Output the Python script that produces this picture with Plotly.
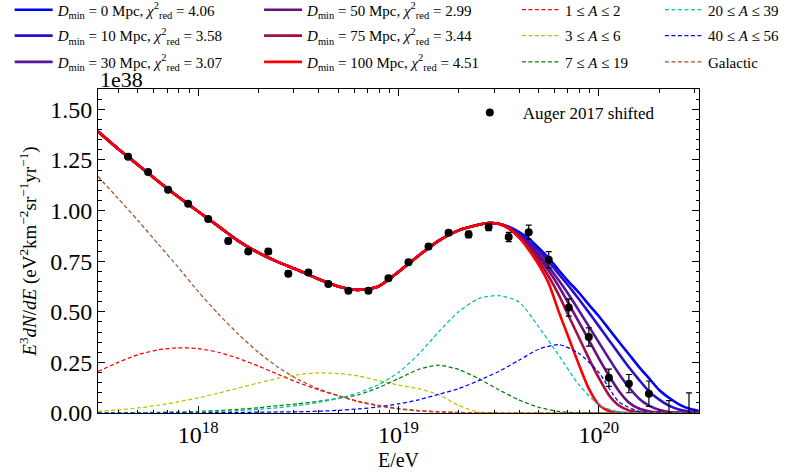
import plotly.graph_objects as go

# ---------------- data (flux in units of 1e38) ----------------
# model grid, log10(E/eV)
model_logE = [17.5, 17.6, 17.7, 17.8, 17.9, 18.0, 18.1, 18.2, 18.3, 18.4, 18.5,
              18.6, 18.7, 18.8, 18.9, 19.0, 19.1, 19.2, 19.3, 19.4, 19.45,
              19.5, 19.55, 19.6, 19.65, 19.7, 19.75, 19.8, 19.85, 19.9, 19.95,
              20.0, 20.05, 20.1, 20.15, 20.2, 20.25, 20.3, 20.35, 20.4, 20.45, 20.5]
# part shared by all fits (17.5 .. 19.45)
model_low = [1.39, 1.305, 1.225, 1.145, 1.068, 0.995, 0.923, 0.85, 0.792, 0.745, 0.705,
             0.662, 0.625, 0.608, 0.625, 0.697, 0.777, 0.85, 0.902, 0.93, 0.938]
# high-energy parts (19.5 .. 20.5)
tail_D0 = [0.935, 0.92, 0.895, 0.862, 0.815, 0.765, 0.705, 0.648, 0.595, 0.535, 0.478,
           0.415, 0.352, 0.29, 0.228, 0.172, 0.115, 0.075, 0.043, 0.022, 0.010]
tail_D10 = [0.935, 0.918, 0.887, 0.845, 0.803, 0.746, 0.686, 0.626, 0.563, 0.497, 0.429,
            0.361, 0.293, 0.226, 0.165, 0.107, 0.067, 0.036, 0.017, 0.007, 0.003]
tail_D30 = [0.935, 0.917, 0.881, 0.835, 0.786, 0.722, 0.655, 0.584, 0.507, 0.428, 0.349,
            0.27, 0.194, 0.127, 0.072, 0.036, 0.016, 0.005, 0.002, 0.001, 0.0]
tail_D50 = [0.935, 0.915, 0.875, 0.827, 0.770, 0.702, 0.625, 0.539, 0.45, 0.36, 0.27,
            0.185, 0.109, 0.052, 0.022, 0.009, 0.003, 0.001, 0.0, 0.0, 0.0]
tail_D75 = [0.935, 0.913, 0.868, 0.817, 0.752, 0.674, 0.583, 0.478, 0.374, 0.27, 0.173,
            0.089, 0.037, 0.013, 0.003, 0.001, 0.0, 0.0, 0.0, 0.0, 0.0]
tail_D100 = [0.935, 0.91, 0.87, 0.806, 0.732, 0.64, 0.50, 0.37, 0.24, 0.12, 0.04,
             0.01, 0.002, 0.0, 0.0, 0.0, 0.0, 0.0, 0.0, 0.0, 0.0]

fit_names = ["<i>D</i><sub>min</sub> = 0 Mpc, <i>χ</i><sup>2</sup><sub>red</sub> = 4.06",
             "<i>D</i><sub>min</sub> = 10 Mpc, <i>χ</i><sup>2</sup><sub>red</sub> = 3.58",
             "<i>D</i><sub>min</sub> = 30 Mpc, <i>χ</i><sup>2</sup><sub>red</sub> = 3.07",
             "<i>D</i><sub>min</sub> = 50 Mpc, <i>χ</i><sup>2</sup><sub>red</sub> = 2.99",
             "<i>D</i><sub>min</sub> = 75 Mpc, <i>χ</i><sup>2</sup><sub>red</sub> = 3.44",
             "<i>D</i><sub>min</sub> = 100 Mpc, <i>χ</i><sup>2</sup><sub>red</sub> = 4.51"]
fit_tails = [tail_D0, tail_D10, tail_D30, tail_D50, tail_D75, tail_D100]
fit_colors = ["#0000ff", "#2a0fcc", "#5a1499", "#6a0f80", "#a50e45", "#ff0000"]

# component grid, log10(E/eV)
comp_logE = [17.5, 17.6, 17.7, 17.8, 17.9, 18.0, 18.1, 18.2, 18.3, 18.4, 18.5,
             18.6, 18.7, 18.8, 18.9, 19.0, 19.1, 19.2, 19.3, 19.4, 19.5,
             19.6, 19.7, 19.8, 19.9, 20.0, 20.1, 20.2, 20.3, 20.4, 20.5]
comp_A1_2 = [0.205, 0.25, 0.288, 0.312, 0.322, 0.318, 0.30, 0.27, 0.232, 0.19, 0.15,
             0.115, 0.085, 0.058, 0.038, 0.022, 0.012, 0.006, 0.003, 0.001, 0.0,
             0, 0, 0, 0, 0, 0, 0, 0, 0, 0]
comp_A3_6 = [0.008, 0.015, 0.025, 0.038, 0.055, 0.075, 0.098, 0.123, 0.148, 0.172, 0.19,
             0.198, 0.195, 0.183, 0.16, 0.138, 0.12, 0.09, 0.038, 0.004, 0.0,
             0, 0, 0, 0, 0, 0, 0, 0, 0, 0]
comp_A7_19 = [0.0, 0.001, 0.002, 0.003, 0.005, 0.008, 0.012, 0.018, 0.026, 0.036, 0.046,
              0.058, 0.072, 0.09, 0.125, 0.17, 0.215, 0.236, 0.215, 0.17, 0.115,
              0.065, 0.028, 0.008, 0.001, 0, 0, 0, 0, 0, 0]
comp_A20_39 = [0.0, 0.0, 0.001, 0.002, 0.003, 0.005, 0.008, 0.012, 0.018, 0.026, 0.037,
               0.052, 0.072, 0.10, 0.14, 0.20, 0.29, 0.40, 0.50, 0.565, 0.58,
               0.55, 0.425, 0.285, 0.14, 0.04, 0.005, 0, 0, 0, 0]
comp_A40_56 = [0.0, 0.0, 0.0, 0.0, 0.001, 0.001, 0.002, 0.003, 0.004, 0.005, 0.006,
               0.009, 0.013, 0.02, 0.03, 0.045, 0.065, 0.092, 0.12, 0.16, 0.205,
               0.26, 0.315, 0.338, 0.295, 0.2, 0.055, 0.008, 0, 0, 0]
comp_gal = [1.168, 1.06, 0.95, 0.835, 0.72, 0.60, 0.49, 0.39, 0.30, 0.225, 0.165,
            0.12, 0.085, 0.055, 0.035, 0.02, 0.01, 0.005, 0.002, 0.0, 0.0,
            0, 0, 0, 0, 0, 0, 0, 0, 0, 0]
comp_names = ["1 ≤ <i>A</i> ≤ 2", "3 ≤ <i>A</i> ≤ 6", "7 ≤ <i>A</i> ≤ 19",
              "20 ≤ <i>A</i> ≤ 39", "40 ≤ <i>A</i> ≤ 56", "Galactic"]
comp_values = [comp_A1_2, comp_A3_6, comp_A7_19, comp_A20_39, comp_A40_56, comp_gal]
comp_colors = ["#ff0000", "#bfbf00", "#008000", "#00bfbf", "#0000ff", "#a0522d"]

# Auger 2017 (shifted)
auger_logE = [17.65, 17.75, 17.85, 17.95, 18.05, 18.15, 18.25, 18.35, 18.45, 18.55,
              18.65, 18.75, 18.85, 18.95, 19.05, 19.15, 19.25, 19.35, 19.45, 19.55,
              19.65, 19.75, 19.85, 19.95, 20.05, 20.15, 20.25]
auger_flux = [1.266, 1.190, 1.102, 1.033, 0.958, 0.850, 0.798, 0.798, 0.688, 0.694,
              0.637, 0.604, 0.604, 0.666, 0.745, 0.822, 0.890, 0.882, 0.918, 0.869,
              0.893, 0.757, 0.521, 0.375, 0.174, 0.145, 0.095]
auger_err = [0.006, 0.006, 0.007, 0.008, 0.009, 0.014, 0.012, 0.013, 0.014, 0.010,
             0.009, 0.009, 0.010, 0.009, 0.010, 0.011, 0.012, 0.016, 0.017, 0.023,
             0.035, 0.040, 0.043, 0.045, 0.043, 0.045, 0.063]
ul_logE = [20.35, 20.45]
ul_top = [0.061, 0.099]

x_tickvals = [1e18, 1e19, 1e20]
x_ticktext = ["10<sup>18</sup>", "10<sup>19</sup>", "10<sup>20</sup>"]

# ---------------- figure ----------------
FONT = "Liberation Serif"
fig = go.Figure()

# legend slots: column x (paper) and row y (paper) for the 4x3 legend grid
col_x = [-0.147, 0.268, 0.697, 0.935]
row_y = [1.244, 1.164, 1.083]

E_model = [10.0 ** v for v in model_logE]
for i in range(6):
    fig.add_trace(go.Scatter(
        x=E_model, y=model_low + fit_tails[i], mode="lines", name=fit_names[i],
        line=dict(color=fit_colors[i], width=2.6, shape="spline", smoothing=0.6),
        legend="legend%d" % (i + 2)))

E_comp = [10.0 ** v for v in comp_logE]
for i in range(6):
    fig.add_trace(go.Scatter(
        x=E_comp, y=comp_values[i], mode="lines", name=comp_names[i],
        line=dict(color=comp_colors[i], width=1.25, dash="4px,2.5px",
                  shape="spline", smoothing=0.6),
        legend="legend%d" % (i + 8)))

fig.add_trace(go.Scatter(
    x=[10.0 ** v for v in auger_logE], y=auger_flux, mode="markers",
    name="Auger 2017 shifted",
    marker=dict(color="black", size=8),
    error_y=dict(type="data", array=auger_err, color="black", thickness=1.2, width=3),
    legend="legend"))
fig.add_trace(go.Scatter(
    x=[10.0 ** v for v in ul_logE], y=[0, 0], mode="markers",
    marker=dict(color="black", size=7, opacity=0),
    error_y=dict(type="data", symmetric=False, array=ul_top, arrayminus=[0, 0],
                 color="black", thickness=1.2, width=3),
    showlegend=False, hoverinfo="skip"))

minor_x = [float(m) * 10.0 ** d for d in (17, 18, 19, 20) for m in range(2, 10)
           if 10.0 ** 17.5 < m * 10.0 ** d < 10.0 ** 20.5]

axis_common = dict(showline=True, linecolor="black", linewidth=1, mirror="allticks",
                   ticks="inside", ticklen=7, tickwidth=1, tickcolor="black",
                   showgrid=False, zeroline=False, automargin=False,
                   tickfont=dict(family=FONT, size=24, color="black"))

fig.update_xaxes(type="log", range=[17.5, 20.5], tickmode="array",
                 tickvals=x_tickvals, ticktext=x_ticktext,
                 minor=dict(ticks="inside", ticklen=3.5, tickcolor="black",
                            tickmode="array", tickvals=minor_x, showgrid=False),
                 title=dict(text="E/eV", font=dict(family=FONT, size=20, color="black"),
                            standoff=6),
                 **axis_common)
fig.update_yaxes(range=[0, 1.6], tickmode="linear", tick0=0, dtick=0.25,
                 tickformat=".2f",
                 minor=dict(ticks="inside", ticklen=3.5, tickcolor="black",
                            dtick=0.05, showgrid=False),
                 title=dict(text="<i>E</i><sup>3</sup><i>dN</i>/<i>dE</i> "
                                 "(eV<sup>2</sup>km<sup>−2</sup>sr<sup>−1</sup>yr<sup>−1</sup>)",
                            font=dict(family=FONT, size=19, color="black"), standoff=8),
                 **axis_common)

legend_layout = {}
for k in range(12):
    col, row = k // 3, k % 3
    legend_layout["legend%d" % (k + 2)] = dict(
        x=col_x[col], y=row_y[row], xanchor="left", yanchor="middle",
        font=dict(family=FONT, size=15, color="black"), bgcolor="rgba(0,0,0,0)",
        itemwidth=38)
legend_layout["legend"] = dict(
    x=0.597, y=0.926, xanchor="left", yanchor="middle",
    font=dict(family=FONT, size=17, color="black"), bgcolor="rgba(0,0,0,0)", itemwidth=56)

fig.update_layout(
    width=785, height=473,
    margin=dict(l=98, r=86, t=89, b=60, autoexpand=False),
    paper_bgcolor="white", plot_bgcolor="white",
    font=dict(family=FONT, color="black"),
    annotations=[dict(text="1e38", xref="paper", yref="paper", x=0, y=1,
                      xanchor="left", yanchor="bottom", showarrow=False, yshift=-5,
                      font=dict(family=FONT, size=22, color="black"))],
    **legend_layout,
)

fig.write_html("out.html", config={"displayModeBar": False},
               post_script="document.body.style.margin='0';")
